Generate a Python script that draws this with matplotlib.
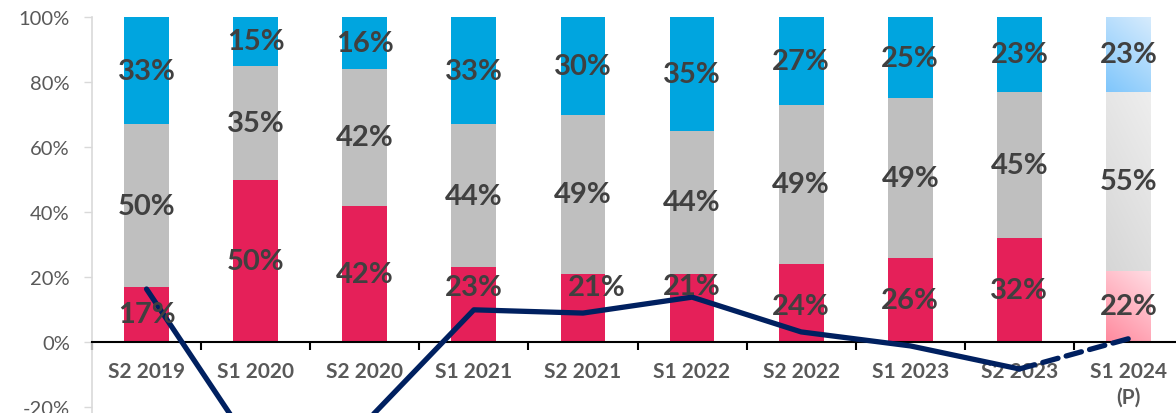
import numpy as np
import matplotlib
matplotlib.use("Agg")
import matplotlib.pyplot as plt
from matplotlib.colors import to_rgb

periods = ["S2 2019", "S1 2020", "S2 2020", "S1 2021", "S2 2021",
           "S1 2022", "S2 2022", "S1 2023", "S2 2023", "S1 2024\n(P)"]
red_share = [17, 50, 42, 23, 21, 21, 24, 26, 32, 22]
grey_share = [50, 35, 42, 44, 49, 44, 49, 49, 45, 55]
blue_share = [33, 15, 16, 33, 30, 35, 27, 25, 23, 23]
growth = [16.3, -34, -25, 9.9, 8.9, 13.8, 3.1, -1.2, -8.3, 1.0]

plt.rcParams['font.family'] = ['Lato', 'DejaVu Sans']

RED = "#e52059"
GREY = "#bfbfbf"
BLUE = "#00a5df"
NAVY = "#002060"
TXT = "#404040"

fig = plt.figure(figsize=(11.76, 4.14), dpi=100)
ax = fig.add_axes([92 / 1176, -0.1425, 1091 / 1176, 1.099])

x = np.arange(len(periods))
w = 0.41
n = len(periods)
red = np.array(red_share)
grey = np.array(grey_share)
blue = np.array(blue_share)

# solid bars for all but the forecast one
ax.bar(x[:-1], red[:-1], w, color=RED, zorder=2)
ax.bar(x[:-1], grey[:-1], w, bottom=red[:-1], color=GREY, zorder=2)
ax.bar(x[:-1], blue[:-1], w, bottom=(red + grey)[:-1], color=BLUE, zorder=2)


def grad_bar(xc, y0, y1, c_start, c_end):
    c0 = np.array(to_rgb(c_start))
    c1 = np.array(to_rgb(c_end))
    gx, gy = np.meshgrid(np.linspace(0, 1, 40), np.linspace(0, 1, 80))
    t = (0.5 * gx + gy) / 1.5
    img = c0 + (c1 - c0) * t[..., None]
    ax.imshow(img, extent=(xc - w / 2, xc + w / 2, y1, y0), origin="upper",
              aspect="auto", interpolation="bilinear", zorder=2)


# forecast bar with light gradients
last = n - 1
grad_bar(x[last], 0, red[last], "#ff8a9e", "#ffdde4")
grad_bar(x[last], red[last], red[last] + grey[last], "#d6d6d6", "#eeeeee")
grad_bar(x[last], red[last] + grey[last], 100, "#7fc6fb", "#d6ebfd")

# growth line, solid then dashed for forecast
ax.plot(x[:-1], growth[:-1], color=NAVY, lw=3.8, solid_capstyle="round", zorder=3)
ax.plot(x[-2:], growth[-2:], color=NAVY, lw=3.8, dashes=(3, 1.6),
        dash_capstyle="round", zorder=3)

# labels, a few red ones moved up off the line
nudge = {3: (0, 5.5), 4: (0.13, 6.5), 5: (0, 6.7), 6: (0, -1)}
lab = dict(ha="center", va="center", fontsize=21, fontweight="bold", color=TXT, zorder=4)
for i in range(n):
    dx, dy = nudge.get(i, (0, 0))
    ax.text(x[i] + dx, red[i] / 2 + dy, f"{red[i]}%", **lab)
    ax.text(x[i], red[i] + grey[i] / 2, f"{grey[i]}%", **lab)
    ax.text(x[i], red[i] + grey[i] + blue[i] / 2, f"{blue[i]}%", **lab)

ax.set_xlim(-0.5, n - 0.5)
ax.set_ylim(-40, 100)
ax.set_yticks(np.arange(-20, 101, 20))
ax.set_yticklabels([f"{v}%" for v in range(-20, 101, 20)])

ax.set_xticks(x)
ax.set_xticks(np.arange(-0.5, n, 1), minor=True)
ax.set_xticklabels([])
ax.tick_params(axis="x", which="major", length=0, labelbottom=False)
ax.tick_params(axis="x", which="minor", length=6, width=1.5, color="black",
               direction="out")
ax.tick_params(axis="y", length=6, width=1, color="#d9d9d9", pad=10,
               labelsize=14.5, labelcolor="#595959")

# category names drawn under the zero line
for i, p in enumerate(periods):
    ax.annotate(p, (x[i], 0), xytext=(0, -14), textcoords="offset points",
                ha="center", va="top", multialignment="center", fontsize=15,
                fontweight="bold", color="#595959", linespacing=1.35, zorder=2.8)

for s in ["top", "right"]:
    ax.spines[s].set_visible(False)
ax.spines["left"].set_color("#d9d9d9")
ax.spines["left"].set_linewidth(1.2)
ax.spines["bottom"].set_position(("data", 0))
ax.spines["bottom"].set_color("black")
ax.spines["bottom"].set_linewidth(1.5)
ax.spines["bottom"].set_zorder(2.5)

fig.savefig("out.png", dpi=100)
